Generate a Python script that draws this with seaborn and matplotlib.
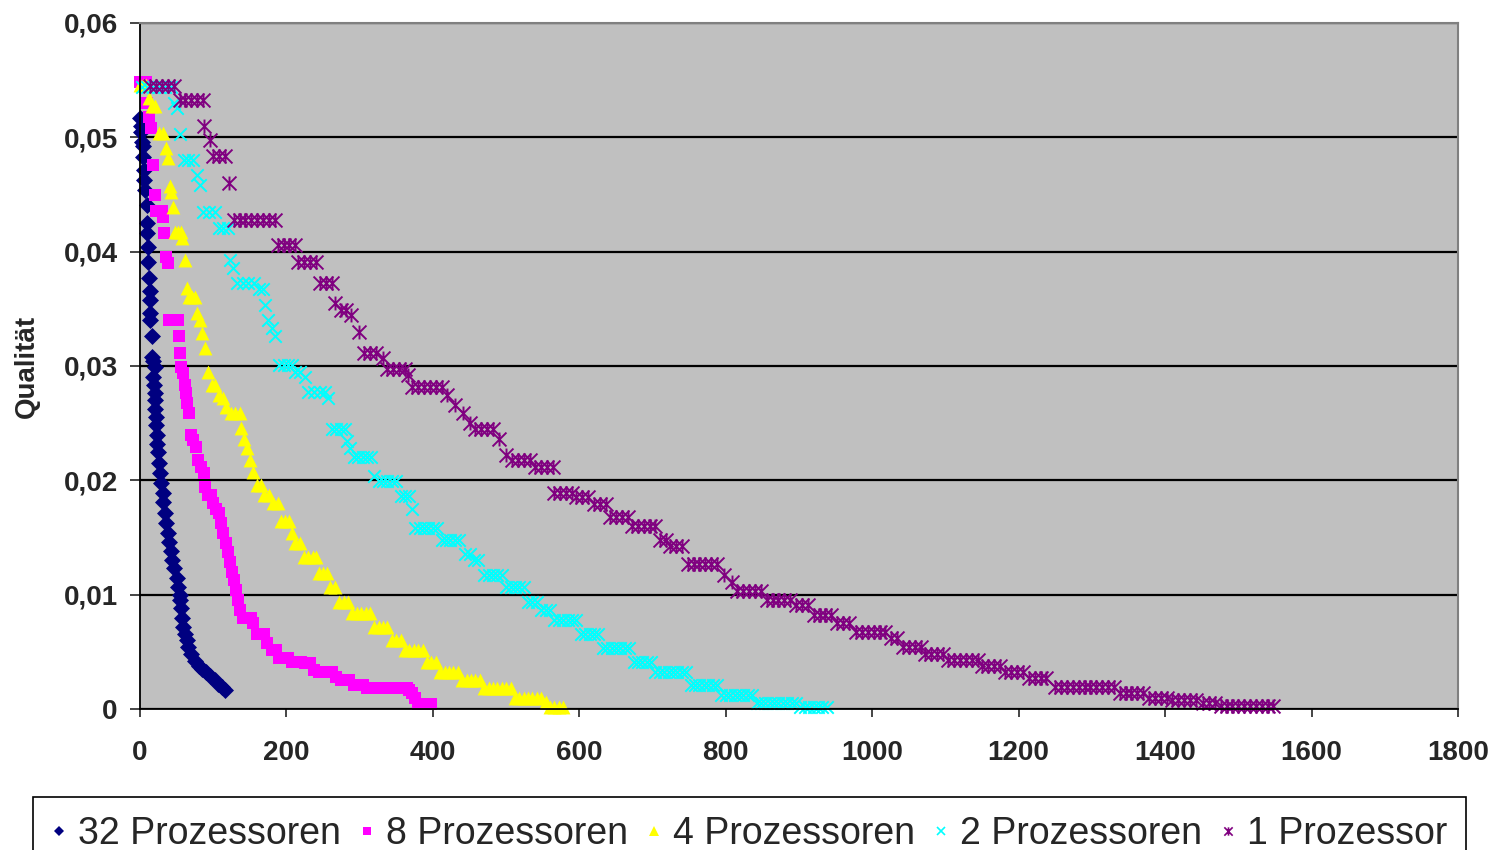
import pandas as pd
import matplotlib.pyplot as plt
import numpy as np
import seaborn as sb
from matplotlib.path import Path
from matplotlib.lines import Line2D
from matplotlib.ticker import FuncFormatter, MultipleLocator

# values: (time, quality)
pts_32 = [(0, .0517), (1, .0510), (2, .0505), (3, .0496), (4, .0492), (4, .0483), (5, .0471), (5, .0463),
          (7, .0454), (9, .0441), (10, .0425), (10, .0416), (11, .0404), (11, .0391), (12, .0377), (13, .0366),
          (14, .0358), (14, .0346), (14, .0340), (16, .0326), (17, .0308), (18, .0304), (20, .0299), (18, .0290),
          (19, .0283), (20, .0276), (20, .0270), (21, .0262), (22, .0255), (22, .0248), (23, .0240), (23, .0232),
          (24, .0225), (26, .0215), (27, .0206), (29, .0198), (31, .0189), (32, .0181), (34, .0171), (36, .0163),
          (38, .0154), (40, .0146), (42, .0138), (44, .0130), (47, .0123), (51, .0115), (52, .0107), (54, .0100),
          (55, .0095), (56, .0088), (57, .0080), (59, .0072), (62, .0066), (64, .0060), (66, .0054), (70, .0048),
          (75, .0042), (80, .0038), (85, .0035), (90, .0032), (96, .0029), (102, .0025), (107, .0022),
          (112, .0019), (116, .0017)]

pts_8 = [(0, .0548), (4, .0548), (8, .0548), (10, .0530), (12, .0518), (15, .0508), (18, .0476), (20, .0450),
         (22, .0436), (26, .0436), (30, .0436), (32, .0430), (33, .0416), (35, .0395), (38, .0390),
         (40, .0340), (44, .0340), (48, .0340), (52, .0340), (53, .0326), (54, .0311), (56, .0299), (59, .0294),
         (61, .0283), (63, .0276), (64, .0268), (67, .0259), (69, .0240), (72, .0235), (76, .0229), (79, .0218),
         (83, .0212), (87, .0206), (89, .0194), (93, .0187), (97, .0187), (100, .0180), (104, .0175),
         (108, .0171), (110, .0163), (114, .0154), (117, .0145), (120, .0137), (123, .0129), (126, .0120),
         (129, .0113), (131, .0104), (134, .0095), (137, .0087), (141, .0080), (146, .0080), (151, .0080),
         (155, .0075), (160, .0066), (165, .0066), (170, .0066), (174, .0058), (180, .0052), (186, .0052),
         (190, .0045), (196, .0045), (202, .0045), (208, .0041), (214, .0041), (220, .0041), (226, .0040),
         (232, .0040), (238, .0034), (244, .0032), (250, .0032), (256, .0032), (262, .0032), (268, .0028),
         (274, .0025), (280, .0025), (286, .0025), (292, .0021), (298, .0021), (304, .0021),
         (310, .0018), (316, .0018), (322, .0018), (328, .0018), (334, .0018), (340, .0018), (346, .0018),
         (352, .0018), (358, .0018), (364, .0018), (368, .0017), (372, .0014), (376, .0010),
         (380, .0004), (386, .0004), (392, .0004), (398, .0004)]

pts_4 = [(0, .0546), (4, .0546), (8, .0546), (12, .0534), (16, .0527), (20, .0527), (26, .0504), (32, .0504),
         (36, .0491), (38, .0482), (41, .0457), (43, .0452), (45, .0439), (48, .0417), (52, .0417), (56, .0417),
         (58, .0412), (61, .0393), (64, .0368), (67, .0360), (71, .0360), (75, .0360), (78, .0346), (82, .0340),
         (85, .0329), (89, .0316), (93, .0295), (98, .0283), (103, .0283), (108, .0275), (113, .0272),
         (118, .0264), (124, .0259), (130, .0259), (136, .0259), (138, .0246), (142, .0236), (146, .0228),
         (150, .0218), (155, .0207), (160, .0196), (165, .0196), (170, .0187), (176, .0187), (182, .0180),
         (188, .0180), (192, .0164), (198, .0164), (204, .0164), (208, .0154), (212, .0145), (218, .0145),
         (224, .0133), (230, .0133), (236, .0133), (240, .0133), (244, .0119), (250, .0119), (256, .0119),
         (260, .0107), (266, .0107), (272, .0094), (278, .0094), (284, .0094),
         (290, .0084), (296, .0084), (302, .0084), (308, .0084), (314, .0084),
         (320, .0072), (326, .0072), (332, .0072), (338, .0072), (344, .0060), (350, .0060), (356, .0060),
         (362, .0052), (368, .0052), (374, .0052), (380, .0052), (386, .0052), (392, .0041), (398, .0041),
         (404, .0041), (410, .0032), (416, .0032), (422, .0032), (428, .0032), (434, .0032),
         (440, .0025), (446, .0025), (452, .0025), (458, .0025), (464, .0025),
         (470, .0018), (476, .0018), (482, .0018), (488, .0018), (494, .0018), (500, .0018), (506, .0018),
         (512, .0010), (518, .0010), (524, .0010), (530, .0010), (536, .0010), (542, .0010), (548, .0010),
         (554, .0006), (560, .0002), (566, .0002), (572, .0002), (578, .0002)]

pts_2 = [(3, .0544), (10, .0544), (18, .0544), (26, .0544), (34, .0544), (42, .0544), (47, .0530), (51, .0526),
         (55, .0503), (60, .0480), (66, .0480), (72, .0480), (78, .0467), (82, .0458),
         (86, .0435), (94, .0435), (102, .0435), (108, .0421), (114, .0421), (120, .0421), (123, .0393),
         (127, .0386), (132, .0373), (140, .0373), (148, .0373), (156, .0373), (162, .0367), (168, .0367),
         (171, .0353), (175, .0340), (180, .0333), (185, .0326), (190, .0301), (196, .0301), (202, .0301),
         (208, .0301), (212, .0295), (218, .0295), (225, .0290), (230, .0277), (238, .0277), (246, .0277),
         (252, .0277), (257, .0272), (262, .0245), (268, .0245), (274, .0245), (280, .0245), (283, .0234),
         (287, .0228), (292, .0220), (298, .0220), (304, .0220), (310, .0220), (316, .0220), (320, .0204),
         (326, .0199), (332, .0199), (338, .0199), (344, .0199), (350, .0199), (356, .0186), (362, .0186),
         (368, .0186), (372, .0175), (376, .0158), (382, .0158), (388, .0158), (394, .0158), (400, .0158),
         (406, .0158), (412, .0148), (418, .0148), (424, .0148), (430, .0148), (436, .0148),
         (444, .0136), (450, .0136), (456, .0130), (462, .0130),
         (470, .0117), (476, .0117), (482, .0117), (488, .0117), (494, .0117),
         (500, .0107), (506, .0107), (512, .0107), (518, .0107), (524, .0107),
         (530, .0094), (536, .0094), (542, .0094), (548, .0087), (554, .0087), (560, .0087),
         (566, .0078), (572, .0078), (578, .0078), (584, .0078), (590, .0078), (596, .0078),
         (602, .0066), (608, .0066), (614, .0066), (620, .0066), (626, .0066),
         (632, .0053), (638, .0053), (644, .0053), (650, .0053), (656, .0053), (662, .0053), (668, .0053),
         (674, .0041), (680, .0041), (686, .0041), (692, .0041), (698, .0041),
         (704, .0032), (710, .0032), (716, .0032), (722, .0032), (728, .0032), (734, .0032), (740, .0032),
         (746, .0032), (752, .0021), (758, .0021), (764, .0021), (770, .0021), (776, .0021), (782, .0021),
         (788, .0021), (794, .0012), (800, .0012), (806, .0012), (812, .0012), (818, .0012), (824, .0012),
         (830, .0012), (836, .0012), (842, .0005), (848, .0005), (854, .0005), (860, .0005), (866, .0005),
         (872, .0005), (878, .0005), (884, .0005), (890, .0005), (896, .0005),
         (902, .0002), (908, .0002), (914, .0002), (920, .0002), (926, .0002), (932, .0002), (938, .0002)]

pts_1 = [(14, .0545), (22, .0545), (30, .0545), (38, .0545), (46, .0545),
         (54, .0533), (62, .0533), (70, .0533), (78, .0533), (86, .0533),
         (88, .0510), (96, .0498), (100, .0484), (108, .0484), (116, .0484), (122, .0460),
         (128, .0428), (136, .0428), (144, .0428), (152, .0428), (160, .0428), (168, .0428), (176, .0428),
         (184, .0428), (188, .0406), (196, .0406), (204, .0406), (212, .0406),
         (216, .0391), (224, .0391), (232, .0391), (240, .0391), (246, .0373), (254, .0373), (262, .0373),
         (266, .0355), (274, .0349), (282, .0349), (288, .0345), (299, .0330),
         (306, .0311), (314, .0311), (322, .0311), (332, .0307),
         (338, .0297), (346, .0297), (354, .0297), (362, .0297), (366, .0292),
         (372, .0282), (380, .0282), (388, .0282), (396, .0282), (404, .0282), (412, .0282),
         (419, .0275), (430, .0266), (441, .0259), (451, .0250),
         (458, .0245), (466, .0245), (474, .0245), (482, .0245), (490, .0236), (500, .0222),
         (508, .0218), (516, .0218), (524, .0218), (532, .0218), (540, .0212), (548, .0212), (556, .0212),
         (564, .0212), (566, .0189), (574, .0189), (582, .0189), (590, .0189),
         (596, .0185), (604, .0185), (612, .0185), (620, .0179), (628, .0179), (636, .0179),
         (642, .0168), (650, .0168), (658, .0168), (666, .0168),
         (672, .0160), (680, .0160), (688, .0160), (696, .0160), (704, .0160),
         (710, .0148), (718, .0148), (724, .0143), (732, .0143), (740, .0143),
         (748, .0127), (756, .0127), (764, .0127), (772, .0127), (780, .0127), (788, .0127),
         (798, .0117), (808, .0111), (816, .0103), (824, .0103), (832, .0103), (840, .0103), (848, .0103),
         (856, .0095), (864, .0095), (872, .0095), (880, .0095), (888, .0095),
         (896, .0091), (904, .0091), (912, .0091), (920, .0082), (928, .0082), (936, .0082), (944, .0082),
         (952, .0075), (960, .0075), (968, .0075),
         (978, .0067), (986, .0067), (994, .0067), (1002, .0067), (1010, .0067), (1018, .0067),
         (1026, .0062), (1034, .0062), (1042, .0054), (1050, .0054), (1058, .0054), (1066, .0054),
         (1072, .0048), (1080, .0048), (1088, .0048), (1096, .0048),
         (1104, .0043), (1112, .0043), (1120, .0043), (1128, .0043), (1136, .0043), (1144, .0043),
         (1150, .0038), (1158, .0038), (1166, .0038), (1174, .0038),
         (1182, .0032), (1190, .0032), (1198, .0032), (1206, .0032),
         (1214, .0027), (1222, .0027), (1230, .0027), (1238, .0027),
         (1250, .0019), (1258, .0019), (1266, .0019), (1274, .0019), (1282, .0019), (1290, .0019),
         (1298, .0019), (1306, .0019), (1314, .0019), (1322, .0019), (1330, .0019),
         (1338, .0014), (1346, .0014), (1354, .0014), (1362, .0014), (1370, .0014),
         (1378, .0010), (1386, .0010), (1394, .0010), (1402, .0010),
         (1410, .0008), (1418, .0008), (1426, .0008), (1434, .0008), (1442, .0008),
         (1452, .0005), (1460, .0005), (1468, .0005),
         (1476, .0003), (1484, .0003), (1492, .0003), (1500, .0003), (1508, .0003), (1516, .0003),
         (1524, .0003), (1532, .0003), (1540, .0003), (1548, .0003)]

labels = ['32 Prozessoren', '8 Prozessoren', '4 Prozessoren', '2 Prozessoren', '1 Prozessor']
colors = ['#000080', '#FF00FF', '#FFFF00', '#00FFFF', '#800080']

# excel style star: an x with a vertical bar
star = Path([(-1, -1), (1, 1), (-1, 1), (1, -1), (0, -1), (0, 1)],
            [Path.MOVETO, Path.LINETO, Path.MOVETO, Path.LINETO, Path.MOVETO, Path.LINETO])
markers = ['D', 's', '^', 'x', star]
line_mk = [False, False, False, True, True]
sizes = [75, 75, 100, 80, 100]

sb.set_style('white')
plt.rcParams['font.family'] = ['Liberation Sans', 'DejaVu Sans']

fig = plt.figure(figsize=(15.04, 8.5), dpi=100)
ax = fig.add_axes([140/1504, 1-709/850, 1318/1504, 686/850])
ax.set_facecolor('#C0C0C0')

for pts, lab, col, mk, sz, ln in zip([pts_32, pts_8, pts_4, pts_2, pts_1], labels, colors, markers, sizes, line_mk):
    df = pd.DataFrame(pts, columns=['Zeit', 'Qualität'])
    if ln:
        sb.scatterplot(data=df, x='Zeit', y='Qualität', marker=mk, color=col, edgecolor=col,
                       s=sz, linewidth=1.4, ax=ax, clip_on=False, legend=False)
    else:
        sb.scatterplot(data=df, x='Zeit', y='Qualität', marker=mk, color=col, s=sz,
                       linewidth=0, edgecolor=col, ax=ax, clip_on=False, legend=False)

ax.set_xlim(0, 1800)
ax.set_ylim(0, 0.06)
ax.xaxis.set_major_locator(MultipleLocator(200))
ax.yaxis.set_major_locator(MultipleLocator(0.01))
ax.yaxis.set_major_formatter(FuncFormatter(lambda v, p: '0' if abs(v) < 1e-9 else f'{v:.2f}'.replace('.', ',')))
ax.grid(axis='y', color='black', lw=1.6)
ax.grid(axis='x', visible=False)
ax.set_axisbelow(True)

for s in ['left', 'bottom']:
    ax.spines[s].set_color('black')
    ax.spines[s].set_linewidth(1.3)
for s in ['top', 'right']:
    ax.spines[s].set_color('#808080')
    ax.spines[s].set_linewidth(1.5)

ax.tick_params(axis='y', direction='out', length=7, width=1.2, pad=9, labelsize=20, left=True)
ax.tick_params(axis='x', direction='out', length=6, width=1.2, pad=16, labelsize=20, bottom=True)
for t in ax.get_xticklabels() + ax.get_yticklabels():
    t.set_fontweight('bold')

ax.set_xlabel('')
ax.set_ylabel('Qualität', fontsize=20, fontweight='bold')
ax.yaxis.set_label_coords(-0.076, 0.5)

handles = [Line2D([], [], ls='none', marker=m, color=c, markersize=ms,
                  markeredgewidth=1.2 if ln else 0)
           for m, c, ms, ln in zip(markers, colors, [5, 6, 7, 6, 6], line_mk)]
leg = fig.legend(handles, labels, loc='upper left', bbox_to_anchor=(33/1504, 1-797/850), ncol=5,
                 fontsize=27, frameon=True, fancybox=False, edgecolor='black', framealpha=1,
                 handlelength=0.4, handletextpad=0.3, columnspacing=0.5, borderpad=0.5, borderaxespad=0)
leg.get_frame().set_linewidth(1.2)

fig.savefig('out.png', dpi=100)
